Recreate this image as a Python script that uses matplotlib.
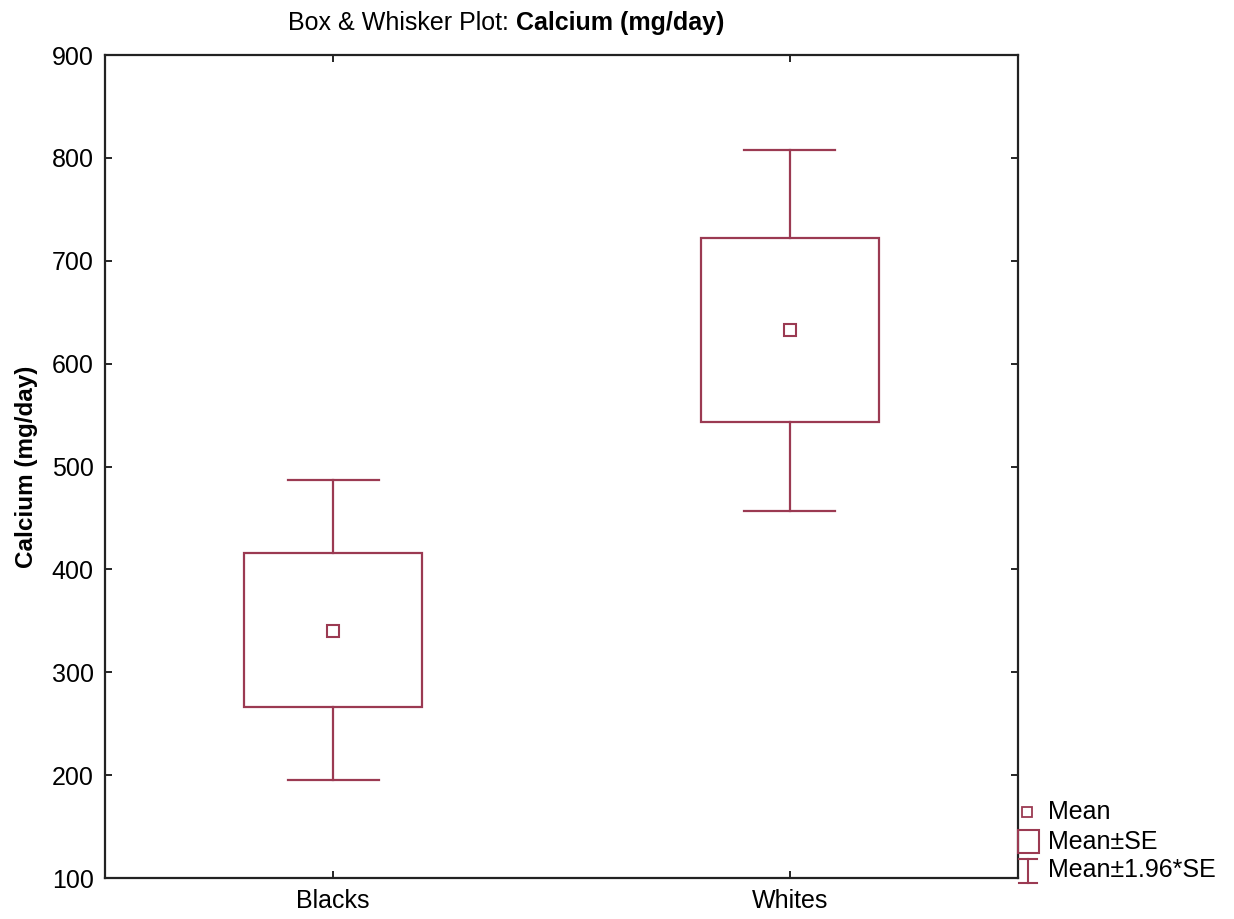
import matplotlib.pyplot as plt
from matplotlib.patches import Rectangle

plt.rcParams['font.family'] = ['Liberation Sans', 'DejaVu Sans']

groups = ['Blacks', 'Whites']
means = [340, 633]
se_low = [266, 543]
se_high = [416, 722]
ci_low = [195, 457]
ci_high = [487, 808]

col = '#9b3a52'

fig = plt.figure(figsize=(12.34, 9.19), dpi=100)
ax = fig.add_axes([0.085, 0.0446, 0.74, 0.8954])

box_w = 0.39
cap_w = 0.2
for i in range(len(groups)):
    ax.add_patch(Rectangle((i - box_w / 2, se_low[i]), box_w, se_high[i] - se_low[i],
                           fill=False, ec=col, lw=1.6))
    ax.plot([i, i], [se_high[i], ci_high[i]], color=col, lw=1.6)
    ax.plot([i, i], [ci_low[i], se_low[i]], color=col, lw=1.6)
    ax.plot([i - cap_w / 2, i + cap_w / 2], [ci_high[i]] * 2, color=col, lw=1.6)
    ax.plot([i - cap_w / 2, i + cap_w / 2], [ci_low[i]] * 2, color=col, lw=1.6)
    ax.plot(i, means[i], 's', ms=8, mfc='white', mec=col, mew=1.5)

ax.set_xlim(-0.5, 1.5)
ax.set_ylim(100, 900)
ax.set_xticks(range(len(groups)))
ax.set_xticklabels(groups)
ax.set_yticks(range(100, 901, 100))
ax.tick_params(direction='in', length=5, top=True, right=True, labelsize=18, pad=8, width=1.2)
for s in ax.spines.values():
    s.set_linewidth(1.6)
    s.set_color('#222222')
ax.set_ylabel('Calcium (mg/day)', fontsize=17.5, fontweight='bold', labelpad=10)

fig.text(0.418, 0.975, 'Box & Whisker Plot: ', ha='right', va='center', fontsize=18)
fig.text(0.418, 0.975, 'Calcium (mg/day)', ha='left', va='center', fontsize=18, fontweight='bold')

# legend drawn by hand, outside right (pixel-like coordinates)
lg = fig.add_axes([0, 0, 1, 1])
lg.set_xlim(0, 1234)
lg.set_ylim(919, 0)
lg.axis('off')
lg.plot(1027, 812, 's', ms=6.5, mfc='white', mec=col, mew=1.3)
lg.add_patch(Rectangle((1018, 830), 21, 23, fill=False, ec=col, lw=1.5))
lg.plot([1028, 1028], [859, 883], color=col, lw=1.5)
lg.plot([1019, 1037], [859, 859], color=col, lw=1.5)
lg.plot([1019, 1037], [883, 883], color=col, lw=1.5)
lg.text(1048, 812, 'Mean', va='center', fontsize=18)
lg.text(1048, 842, 'Mean±SE', va='center', fontsize=18)
lg.text(1048, 870, 'Mean±1.96*SE', va='center', fontsize=18)

plt.savefig('out.png')
